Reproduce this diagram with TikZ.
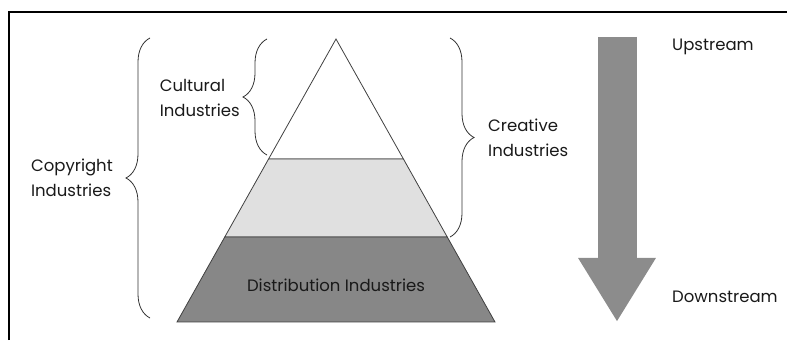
\documentclass[tikz,border=0pt]{standalone}
\usepackage{fontspec}
\setmainfont{Poppins}
\usepackage{xcolor}
\usepackage{tikz}
\usetikzlibrary{arrows.meta,calc,decorations.pathreplacing,positioning}

\begin{document}
\begin{tikzpicture}[x=1pt,y=1pt,font=\fontsize{16.5}{25}\selectfont]
		\tikzstyle{brace}=[draw=black!80,line width=0.8pt,decorate,decoration={brace,amplitude=24pt}]
		\tikzstyle{sidetext}=[align=left,text=black!90,inner sep=0pt]
		\tikzstyle{layer}=[draw=black!75,line width=0.8pt]
		\tikzstyle{flow}=[draw=black!45,line width=39pt,-{Triangle[width=73pt,length=64pt]}]
		
		\useasboundingbox (0,0) rectangle (787,340);
		\draw[line width=1.2pt] (9,0) -- (9,328) -- (787,328);
		
		% pyramid
		\coordinate (apex) at (336,301);
		\coordinate (bl)   at (177,18);
		\coordinate (br)   at (495,18);
		\coordinate (c1l)  at ($(apex)!0.424!(bl)$);
		\coordinate (c1r)  at ($(apex)!0.424!(br)$);
		\coordinate (c2l)  at ($(apex)!0.70!(bl)$);
		\coordinate (c2r)  at ($(apex)!0.70!(br)$);
		
		\filldraw[layer,fill=white]    (apex) -- (c1l) -- (c1r) -- cycle;
		\filldraw[layer,fill=black!12] (c1l) -- (c2l) -- (c2r) -- (c1r) -- cycle;
		\filldraw[layer,fill=black!47] (c2l) -- (bl) -- (br) -- (c2r) -- cycle;
		
		\node[sidetext] (dist) at (336,55) {Distribution Industries};
		
		% braces
		\coordinate (cpb) at (150,22);
		\coordinate (cpt) at (150,302);
		\coordinate (cub) at (267,185);
		\coordinate (cut) at (267,301);
		\coordinate (crt) at (450,302);
		\coordinate (crb) at (450,103);
		
		\draw[brace] (cpb) -- (cpt);
		\draw[brace] (cub) -- (cut);
		\draw[brace] (crt) -- (crb);
		
		\node[sidetext,anchor=east] (copy)     at (113,162)  {Copyright\\Industries};
		\node[sidetext,anchor=east] (cultural) at (240,242)  {Cultural\\Industries};
		\node[sidetext,anchor=west] (creative) at (488,202)  {Creative\\Industries};
		
		% upstream to downstream
		\coordinate (up)   at (617,303);
		\coordinate (down) at (617,18);
		\draw[flow] (up) -- (down);
		
		\node[sidetext,anchor=west] (upstream)   at (672,293) {Upstream};
		\node[sidetext,anchor=west] (downstream) at (672,43)  {Downstream};
		
\end{tikzpicture}
\end{document}
